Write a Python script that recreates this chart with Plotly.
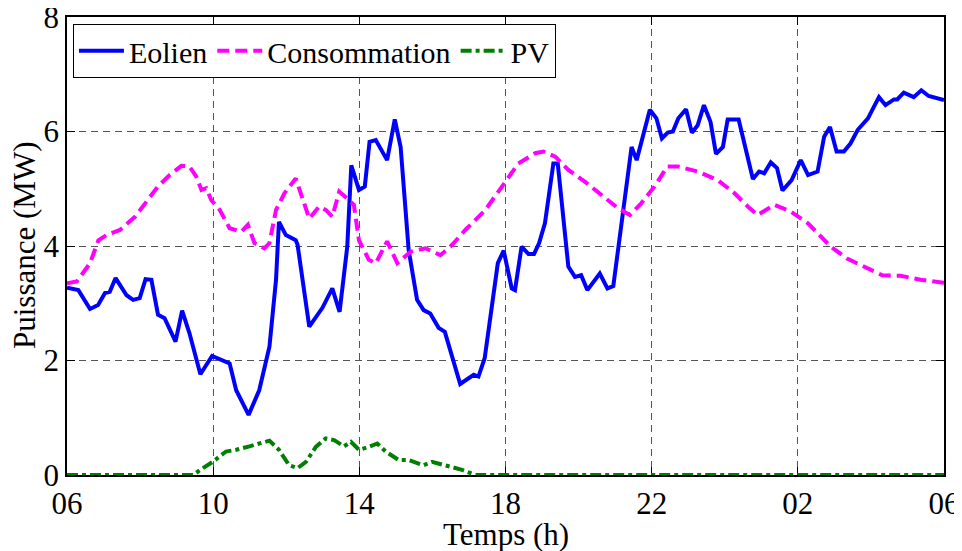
import plotly.graph_objects as go

# Hours elapsed since 06:00
eolien_t = [0.0, 0.31, 0.63, 0.85, 1.04, 1.17, 1.33, 1.63, 1.81, 1.99, 2.15, 2.31, 2.49, 2.67, 2.97,
            3.15, 3.35, 3.65, 3.97, 4.45, 4.63, 4.97, 5.26, 5.54, 5.72, 5.80, 5.99, 6.26, 6.31, 6.63,
            6.99, 7.26, 7.46, 7.67, 7.78, 7.99, 8.15, 8.28, 8.45, 8.76, 8.97, 9.13, 9.35, 9.58, 9.76,
            9.94, 10.17, 10.34, 10.76, 11.13, 11.26, 11.43, 11.79, 11.95, 12.17, 12.26, 12.44, 12.63,
            12.78, 12.92, 13.08, 13.31, 13.43, 13.72, 13.90, 14.07, 14.24, 14.58, 14.79, 14.95, 15.45,
            15.59, 15.95, 16.13, 16.28, 16.44, 16.58, 16.73, 16.94, 17.10, 17.26, 17.43, 17.61, 17.76,
            17.95, 18.08, 18.38, 18.77, 18.94, 19.08, 19.26, 19.43, 19.58, 19.83, 20.08, 20.28, 20.54,
            20.72, 20.88, 21.06, 21.26, 21.44, 21.64, 21.92, 22.08, 22.22, 22.40, 22.63, 22.72, 22.90,
            23.17, 23.38, 23.58, 24.0]
eolien_mw = [3.27, 3.23, 2.90, 2.97, 3.18, 3.20, 3.44, 3.14, 3.06, 3.09, 3.42, 3.41, 2.80, 2.74, 2.33,
             2.87, 2.48, 1.76, 2.08, 1.95, 1.48, 1.05, 1.48, 2.24, 3.41, 4.42, 4.19, 4.10, 4.02, 2.59,
             2.92, 3.26, 2.85, 3.99, 5.41, 4.98, 5.04, 5.82, 5.85, 5.50, 6.21, 5.73, 3.93, 3.06, 2.88,
             2.82, 2.57, 2.50, 1.59, 1.75, 1.72, 2.04, 3.70, 3.92, 3.26, 3.23, 3.99, 3.86,
             3.86, 4.05, 4.40, 5.44, 5.44, 3.64, 3.46, 3.49, 3.23, 3.52, 3.26, 3.30, 5.73,
             5.50, 6.38, 6.23, 5.88, 5.98, 6.00, 6.23, 6.39, 5.98, 6.11, 6.46, 6.17, 5.61,
             5.73, 6.21, 6.21, 5.17, 5.30, 5.27, 5.46, 5.36, 4.97, 5.15, 5.50, 5.24, 5.30,
             5.91, 6.08, 5.65, 5.65, 5.79, 6.03, 6.23, 6.43, 6.60, 6.46, 6.56, 6.56, 6.68,
             6.60, 6.72, 6.62, 6.55]

conso_t = [0.0, 0.27, 0.63, 0.86, 1.08, 1.45, 1.86, 2.18, 2.49, 2.81, 3.13, 3.35, 3.54, 3.68, 3.81,
           3.95, 4.18, 4.45, 4.77, 4.95, 5.13, 5.40, 5.54, 5.72, 5.95, 6.26, 6.44, 6.63, 6.90, 7.08,
           7.26, 7.45, 7.67, 7.85, 7.99, 8.26, 8.45, 8.76, 9.04, 9.40, 9.81, 10.22, 10.54, 10.90,
           11.45, 11.90, 12.35, 12.81, 13.04, 13.36, 13.72, 14.18, 14.63, 15.08, 15.40, 15.72, 16.08,
           16.43, 16.72, 17.27, 17.81, 18.27, 18.63, 18.90, 19.36, 19.81, 20.27, 20.72, 20.90, 21.35,
           21.81, 22.31, 22.81, 23.36, 24.0]
conso_mw = [3.35, 3.38, 3.70, 4.10, 4.19, 4.28, 4.51, 4.77, 5.04, 5.24, 5.40, 5.39, 5.21, 4.98, 5.01,
            4.80, 4.63, 4.31, 4.25, 4.37, 4.05, 3.96, 4.05, 4.63, 4.92, 5.18, 4.86, 4.48, 4.69, 4.63,
            4.51, 4.95, 4.83, 4.72, 4.10, 3.76, 3.70, 4.08, 3.70, 3.90, 3.96, 3.84, 4.02, 4.28,
            4.63, 5.04, 5.44, 5.62, 5.65, 5.56, 5.33, 5.12, 4.89, 4.66, 4.54, 4.75, 5.04,
            5.39, 5.39, 5.30, 5.15, 4.92, 4.69, 4.54, 4.72, 4.60, 4.40, 4.10, 3.99, 3.78,
            3.64, 3.49, 3.48, 3.41, 3.36]

pv_t = [0.0, 3.45, 3.72, 3.99, 4.35, 4.63, 4.99, 5.54, 5.80, 6.08, 6.31, 6.54, 6.81, 7.08, 7.31,
        7.58, 7.77, 7.99, 8.26, 8.49, 8.72, 9.08, 9.35, 9.76, 9.99, 10.45, 10.81, 11.18, 24.0]
pv_mw = [0.0, 0.0, 0.12, 0.23, 0.41, 0.44, 0.50, 0.60, 0.44, 0.17, 0.12, 0.23, 0.49, 0.64, 0.61,
         0.50, 0.58, 0.44, 0.49, 0.55, 0.41, 0.26, 0.26, 0.17, 0.23, 0.15, 0.09, 0.0, 0.0]

tick_vals = [0, 4, 8, 12, 16, 20, 24]
tick_text = ["06", "10", "14", "18", "22", "02", "06"]
y_ticks = [0, 2, 4, 6, 8]

FONT = "Liberation Serif"

fig = go.Figure()
fig.add_trace(go.Scatter(x=eolien_t, y=eolien_mw, mode="lines", name="Eolien",
                         line=dict(color="#0000ff", width=4)))
fig.add_trace(go.Scatter(x=conso_t, y=conso_mw, mode="lines", name="Consommation",
                         line=dict(color="#ff00ff", width=4, dash="12px,6px")))
fig.add_trace(go.Scatter(x=pv_t, y=pv_mw, mode="lines", name="PV",
                         line=dict(color="#008000", width=4, dash="11px,4px,4px,4px")))

axis_common = dict(
    showline=True, linecolor="black", linewidth=1.5, mirror="ticks",
    ticks="inside", ticklen=8, tickcolor="black", tickwidth=1,
    showgrid=True, gridcolor="#555555", gridwidth=1, griddash="7px,5px",
    zeroline=False, layer="below traces", automargin=False,
    ticklabeloverflow="allow",
    tickfont=dict(family=FONT, size=31, color="black"),
)

fig.update_xaxes(range=[0, 24], tickvals=tick_vals, ticktext=tick_text, **axis_common)
fig.update_yaxes(range=[0, 8], tickvals=y_ticks, **axis_common)

# axis titles as annotations for precise placement
fig.add_annotation(text="Temps (h)", xref="paper", yref="paper", x=0.5, y=0,
                   xanchor="center", yanchor="top", yshift=-40, showarrow=False,
                   font=dict(family=FONT, size=31, color="black"))
fig.add_annotation(text="Puissance (MW)", xref="paper", yref="paper", x=0, y=0.5,
                   xanchor="center", yanchor="middle", xshift=-43, textangle=-90, showarrow=False,
                   font=dict(family=FONT, size=31, color="black"))

# the page body adds an 8px offset; the figure is sized to fill the rest of the window
fig.update_layout(
    width=954, height=543,
    margin=dict(l=59, r=18, t=9, b=76),
    paper_bgcolor="white", plot_bgcolor="white",
    font=dict(family=FONT, size=31, color="black"),
    showlegend=True,
    legend=dict(x=0.0068, y=0.985, xanchor="left", yanchor="top",
                orientation="h", bgcolor="white", bordercolor="black", borderwidth=1,
                font=dict(family=FONT, size=30, color="black"), itemwidth=45),
)

fig.write_html("out.html")
